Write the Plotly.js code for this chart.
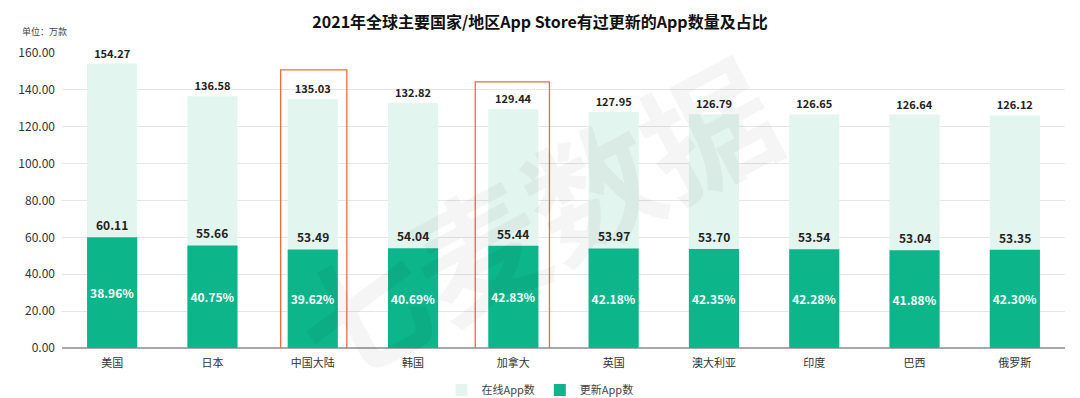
<!DOCTYPE html>
<html>
<head>
<meta charset="utf-8">
<script src="https://cdn.plot.ly/plotly-3.0.1.min.js"></script>
<style>html,body{margin:0;padding:0;background:#fff;}#chart{width:1080px;height:398px;}</style>
</head>
<body>
<div id="chart"></div>
<script>
const categories = ['美国','日本','中国大陆','韩国','加拿大','英国','澳大利亚','印度','巴西','俄罗斯'];
const onlineApps = [154.27,136.58,135.03,132.82,129.44,127.95,126.79,126.65,126.64,126.12];
const updatedApps = [60.11,55.66,53.49,54.04,55.44,53.97,53.70,53.54,53.04,53.35];
const updatedShare = ['38.96%','40.75%','39.62%','40.69%','42.83%','42.18%','42.35%','42.28%','41.88%','42.30%'];
const highlighted = ['中国大陆','加拿大'];
const yTicks = [0,20,40,60,80,100,120,140,160];

const FONT = '"Noto Sans CJK SC","Noto Sans",sans-serif';

const traces = [
  {
    type:'bar', name:'在线App数', x:categories, y:onlineApps,
    marker:{color:'#e2f5ee'},
    text:onlineApps.map(v=>v.toFixed(2)), textposition:'outside', textangle:0,
    textfont:{family:FONT,size:11,color:'#222',weight:'bold'},
    cliponaxis:false, hoverinfo:'x+y'
  },
  {
    type:'bar', name:'更新App数', x:categories, y:updatedApps,
    marker:{color:'#0db58b'},
    text:updatedShare, textposition:'inside', insidetextanchor:'middle', textangle:0,
    textfont:{family:FONT,size:12,color:'#ffffff',weight:'bold'},
    cliponaxis:false, hoverinfo:'x+y'
  }
];

const annotations = categories.map((c,i)=>({
  x:c, y:updatedApps[i], xref:'x', yref:'y', yanchor:'bottom', yshift:2,
  text:updatedApps[i].toFixed(2), showarrow:false,
  font:{family:FONT,size:12,color:'#222',weight:'bold'}
}));
annotations.push({
  x:(20-62)/1003, y:(348-31)/295, xref:'paper', yref:'paper', xanchor:'left', yanchor:'middle',
  text:'单位：万款', showarrow:false, font:{family:FONT,size:9,color:'#444'}
});
annotations.push({
  x:0.47, y:0.45, xref:'paper', yref:'paper', text:'七麦数据', showarrow:false,
  textangle:-28, font:{family:FONT,size:130,color:'rgba(0,0,0,0.04)',weight:'bold'}
});

const shapes = [
  {type:'rect', xref:'x', yref:'y', x0:categories.indexOf(highlighted[0])-0.32, x1:categories.indexOf(highlighted[0])+0.34, y0:-0.6, y1:150.8, line:{color:'#f26b3a',width:1.3}},
  {type:'rect', xref:'x', yref:'y', x0:categories.indexOf(highlighted[1])-0.38, x1:categories.indexOf(highlighted[1])+0.36, y0:-2.7, y1:144.3, line:{color:'#f26b3a',width:1.3}}
];

const layout = {
  width:1080, height:398,
  margin:{l:62,r:15,t:53,b:50, autoexpand:false},
  paper_bgcolor:'#ffffff', plot_bgcolor:'#ffffff',
  font:{family:FONT,color:'#333'},
  title:{text:'2021年全球主要国家/地区App Store有过更新的App数量及占比', x:0.5, xanchor:'center', y:1-22/398, yanchor:'middle', yref:'container', font:{family:FONT,size:16,color:'#111',weight:'bold'}},
  barmode:'overlay', bargap:0.5,
  xaxis:{type:'category', showgrid:false, showline:false, zeroline:false, ticks:'', ticklabelstandoff:7, tickfont:{family:FONT,size:11,color:'#333'}, automargin:false},
  yaxis:{range:[0,160], tickvals:yTicks, tickformat:'.2f', showgrid:true, gridcolor:'#e5e5e5', gridwidth:1,
         zeroline:true, zerolinecolor:'#a8a8a8', zerolinewidth:2, showline:false, ticks:'', ticklabelstandoff:6,
         tickfont:{family:FONT,size:12,color:'#333'}, automargin:false},
  legend:{orientation:'h', x:0.5, xanchor:'center', xref:'container', y:8/398, yanchor:'middle', yref:'container', font:{family:FONT,size:11,color:'#444'}, traceorder:'normal', itemwidth:30},
  annotations:annotations, shapes:shapes,
  showlegend:true
};

Plotly.newPlot('chart', traces, layout, {displayModeBar:false, staticPlot:true});
</script>
</body>
</html>
